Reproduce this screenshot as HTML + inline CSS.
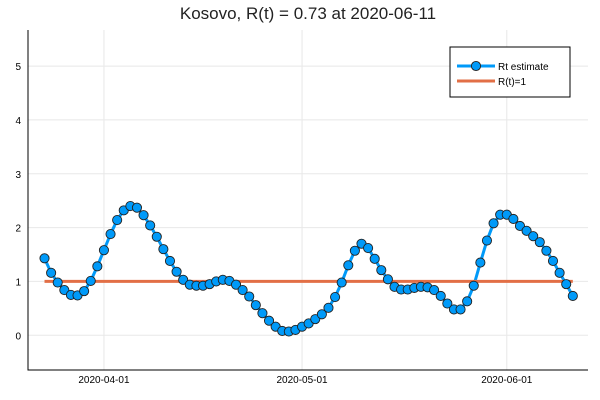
<!DOCTYPE html>
<html><head><meta charset="utf-8"><style>
body{margin:0;background:#fff;}
svg{display:block;font-family:"Liberation Sans",sans-serif;}
</style></head><body>
<svg id="chart" width="600" height="400"></svg>
<script>
const startDate = "2020-03-23";
const rtValues = [1.43,1.16,0.98,0.84,0.75,0.74,0.82,1.01,1.28,1.58,1.88,2.14,2.32,2.40,2.37,2.23,2.04,1.83,1.60,1.38,1.18,1.03,0.94,0.92,0.92,0.95,1.00,1.03,1.01,0.94,0.84,0.72,0.56,0.41,0.27,0.16,0.08,0.07,0.10,
0.16,0.22,0.30,0.39,0.51,0.71,0.98,1.30,1.57,1.70,1.62,1.42,1.21,1.04,0.90,0.85,0.85,0.88,0.90,0.89,0.84,0.73,0.59,0.48,0.48,0.63,0.92,1.35,1.76,2.08,2.24,2.24,2.16,2.03,1.94,1.84,1.73,1.57,1.38,1.16,0.95,0.73];
const yTicks = [0,1,2,3,4,5];
const xTickLabels = ["2020-04-01","2020-05-01","2020-06-01"];
const refValue = 1;

const NS="http://www.w3.org/2000/svg";
const svg=document.getElementById('chart');
const L=28,R=588,T=30,B=370;
const day0=Date.parse("2020-04-01");
const dayOf=s=>(Date.parse(s)-day0)/86400000;
const xMin=-11.5,xMax=73.3,yMin=-0.645,yMax=5.67;
const xs=d=>L+(d-xMin)/(xMax-xMin)*(R-L);
const ys=v=>B-(v-yMin)/(yMax-yMin)*(B-T);
function mk(tag,attrs,parent){const e=document.createElementNS(NS,tag);for(const k in attrs)e.setAttribute(k,attrs[k]);(parent||svg).appendChild(e);return e;}
const s0=dayOf(startDate);
// grid
yTicks.forEach(v=>{
  const g=mk('line',{x1:L,x2:R,y1:ys(v),y2:ys(v),stroke:'#e8e8e8','stroke-width':1});
  
  
  const t=mk('text',{x:L-7,y:ys(v)+4,'text-anchor':'end','font-size':10,fill:'#000'});
  t.textContent=v;
  
  
});
xTickLabels.forEach(s=>{
  const x=xs(dayOf(s));
  const g=mk('line',{x1:x,x2:x,y1:T,y2:B,stroke:'#e8e8e8','stroke-width':1});
  
  
  const t=mk('text',{x:x,y:B+13,'text-anchor':'middle','font-size':10,fill:'#000'});
  t.textContent=s;
  
  
});
const ax=mk('path',{d:`M${L},${T}V${B}H${R}`,fill:'none',stroke:'#000','stroke-width':1});


// series line
const pts=rtValues.map((v,i)=>[xs(s0+i),ys(v)]);
const pl=mk('polyline',{points:pts.map(p=>p.join(',')).join(' '),fill:'none',stroke:'#009af9','stroke-width':3});


// reference line
const rl=mk('line',{x1:xs(s0),x2:xs(s0+rtValues.length-1),y1:ys(refValue),y2:ys(refValue),stroke:'#e26f46','stroke-width':3});


pts.forEach(p=>{
  const c=mk('circle',{cx:p[0],cy:p[1],r:4.6,fill:'#009af9',stroke:'#222','stroke-width':0.9});
  
  
});
const last=rtValues[rtValues.length-1];
const title=mk('text',{x:308,y:19,'text-anchor':'middle','font-size':17,fill:'#222'});
title.textContent=`Kosovo, R(t) = ${last.toFixed(2)} at 2020-06-11`;


// legend
const lg=mk('g',{});


mk('rect',{x:450,y:47,width:120,height:50,fill:'#fff',stroke:'#000','stroke-width':1},lg);
mk('line',{x1:457,x2:495,y1:66,y2:66,stroke:'#009af9','stroke-width':3},lg);
mk('circle',{cx:476,cy:66,r:4.6,fill:'#009af9',stroke:'#222','stroke-width':0.9},lg);
const t1=mk('text',{x:498,y:70,'font-size':10},lg);t1.textContent='Rt estimate';


mk('line',{x1:457,x2:495,y1:81,y2:81,stroke:'#e26f46','stroke-width':3},lg);
const t2=mk('text',{x:498,y:85,'font-size':10},lg);t2.textContent='R(t)=1';


</script>
</body></html>
